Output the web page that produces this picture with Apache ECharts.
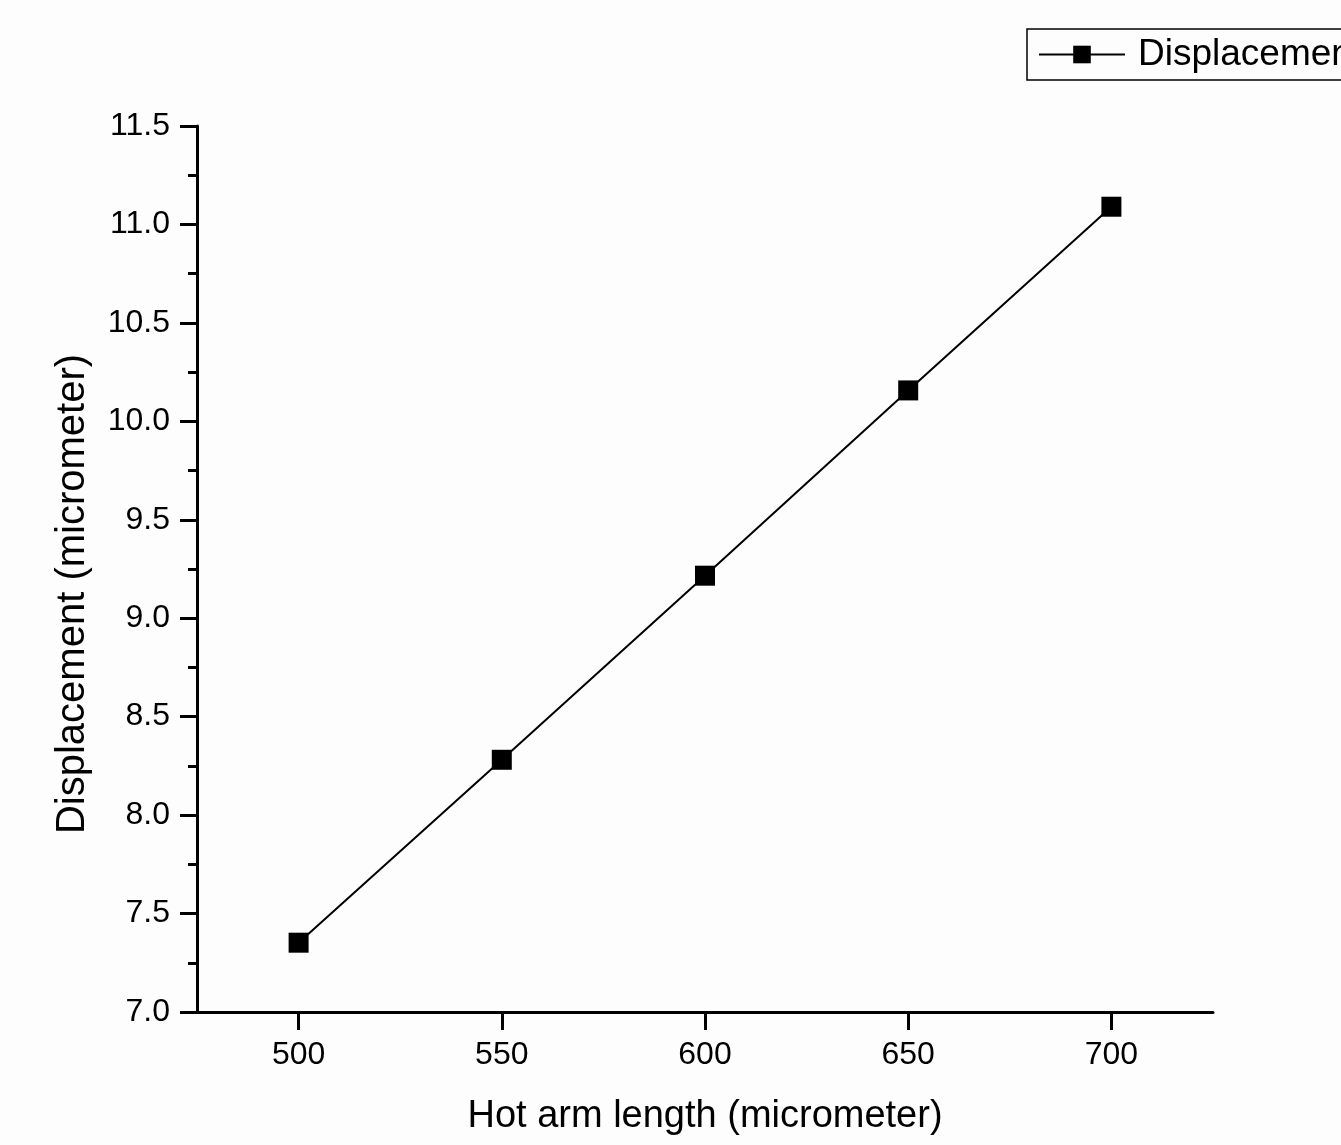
<!DOCTYPE html>
<html>
<head>
<meta charset="utf-8">
<script src="https://cdn.jsdelivr.net/npm/echarts@6/dist/echarts.min.js"></script>
<style>
html,body{margin:0;padding:0;background:#fdfdfd;}
#chart{width:1341px;height:1145px;}
</style>
</head>
<body>
<div id="chart"></div>
<script>
const hotArmLength = [500, 550, 600, 650, 700];
const displacement = [7.352, 8.281, 9.216, 10.157, 11.090];
const seriesName = 'Displacement';
const xTitle = 'Hot arm length (micrometer)';
const yTitle = 'Displacement (micrometer)';

const FONT = '"Liberation Sans", Arial, Helvetica, sans-serif';
const chart = echarts.init(document.getElementById('chart'), null, {renderer: 'canvas'});
chart.setOption({
  backgroundColor: '#fdfdfd',
  animation: false,
  grid: {left: 197, right: 128, top: 126, bottom: 133, containLabel: false},
  legend: {
    left: 1027, top: 29,
    data: [seriesName],
    itemWidth: 86, itemHeight: 22,
    borderColor: '#000', borderWidth: 1.5, borderRadius: 0,
    padding: [7, 20, 7, 11],
    textStyle: {fontFamily: FONT, fontSize: 37, color: '#000', padding: [0, 0, 0, 8]},
    itemGap: 5
  },
  xAxis: {
    type: 'value', min: 475, max: 725, interval: 50,
    name: xTitle, nameLocation: 'middle', nameGap: 86,
    nameTextStyle: {fontFamily: FONT, fontSize: 38, color: '#000'},
    axisLine: {show: true, onZero: false, lineStyle: {color: '#000', width: 3}},
    axisTick: {show: true, inside: false, length: 18, lineStyle: {color: '#000', width: 3},
      customValues: hotArmLength},
    minorTick: {show: true, splitNumber: 2, length: 10, lineStyle: {color: '#000', width: 3}},
    axisLabel: {fontFamily: FONT, fontSize: 32, color: '#000', margin: 27,
      customValues: hotArmLength},
    splitLine: {show: false}
  },
  yAxis: {
    type: 'value', min: 7.0, max: 11.5, interval: 0.5,
    name: yTitle, nameLocation: 'middle', nameGap: 104, nameRotate: 90,
    nameTextStyle: {fontFamily: FONT, fontSize: 40, color: '#000', padding: [0, 50, 0, 0]},
    axisLine: {show: true, onZero: false, lineStyle: {color: '#000', width: 3}},
    axisTick: {show: true, inside: false, length: 17, lineStyle: {color: '#000', width: 3}},
    minorTick: {show: true, splitNumber: 2, length: 9, lineStyle: {color: '#000', width: 3}},
    axisLabel: {fontFamily: FONT, fontSize: 32, color: '#000', margin: 27,
      formatter: v => v.toFixed(1)},
    splitLine: {show: false}
  },
  series: [{
    name: seriesName,
    type: 'line',
    data: hotArmLength.map((x, i) => [x, displacement[i]]),
    symbol: 'rect', symbolSize: 20,
    itemStyle: {color: '#000'},
    lineStyle: {color: '#000', width: 2},
    z: 3
  }]
});
</script>
</body>
</html>
